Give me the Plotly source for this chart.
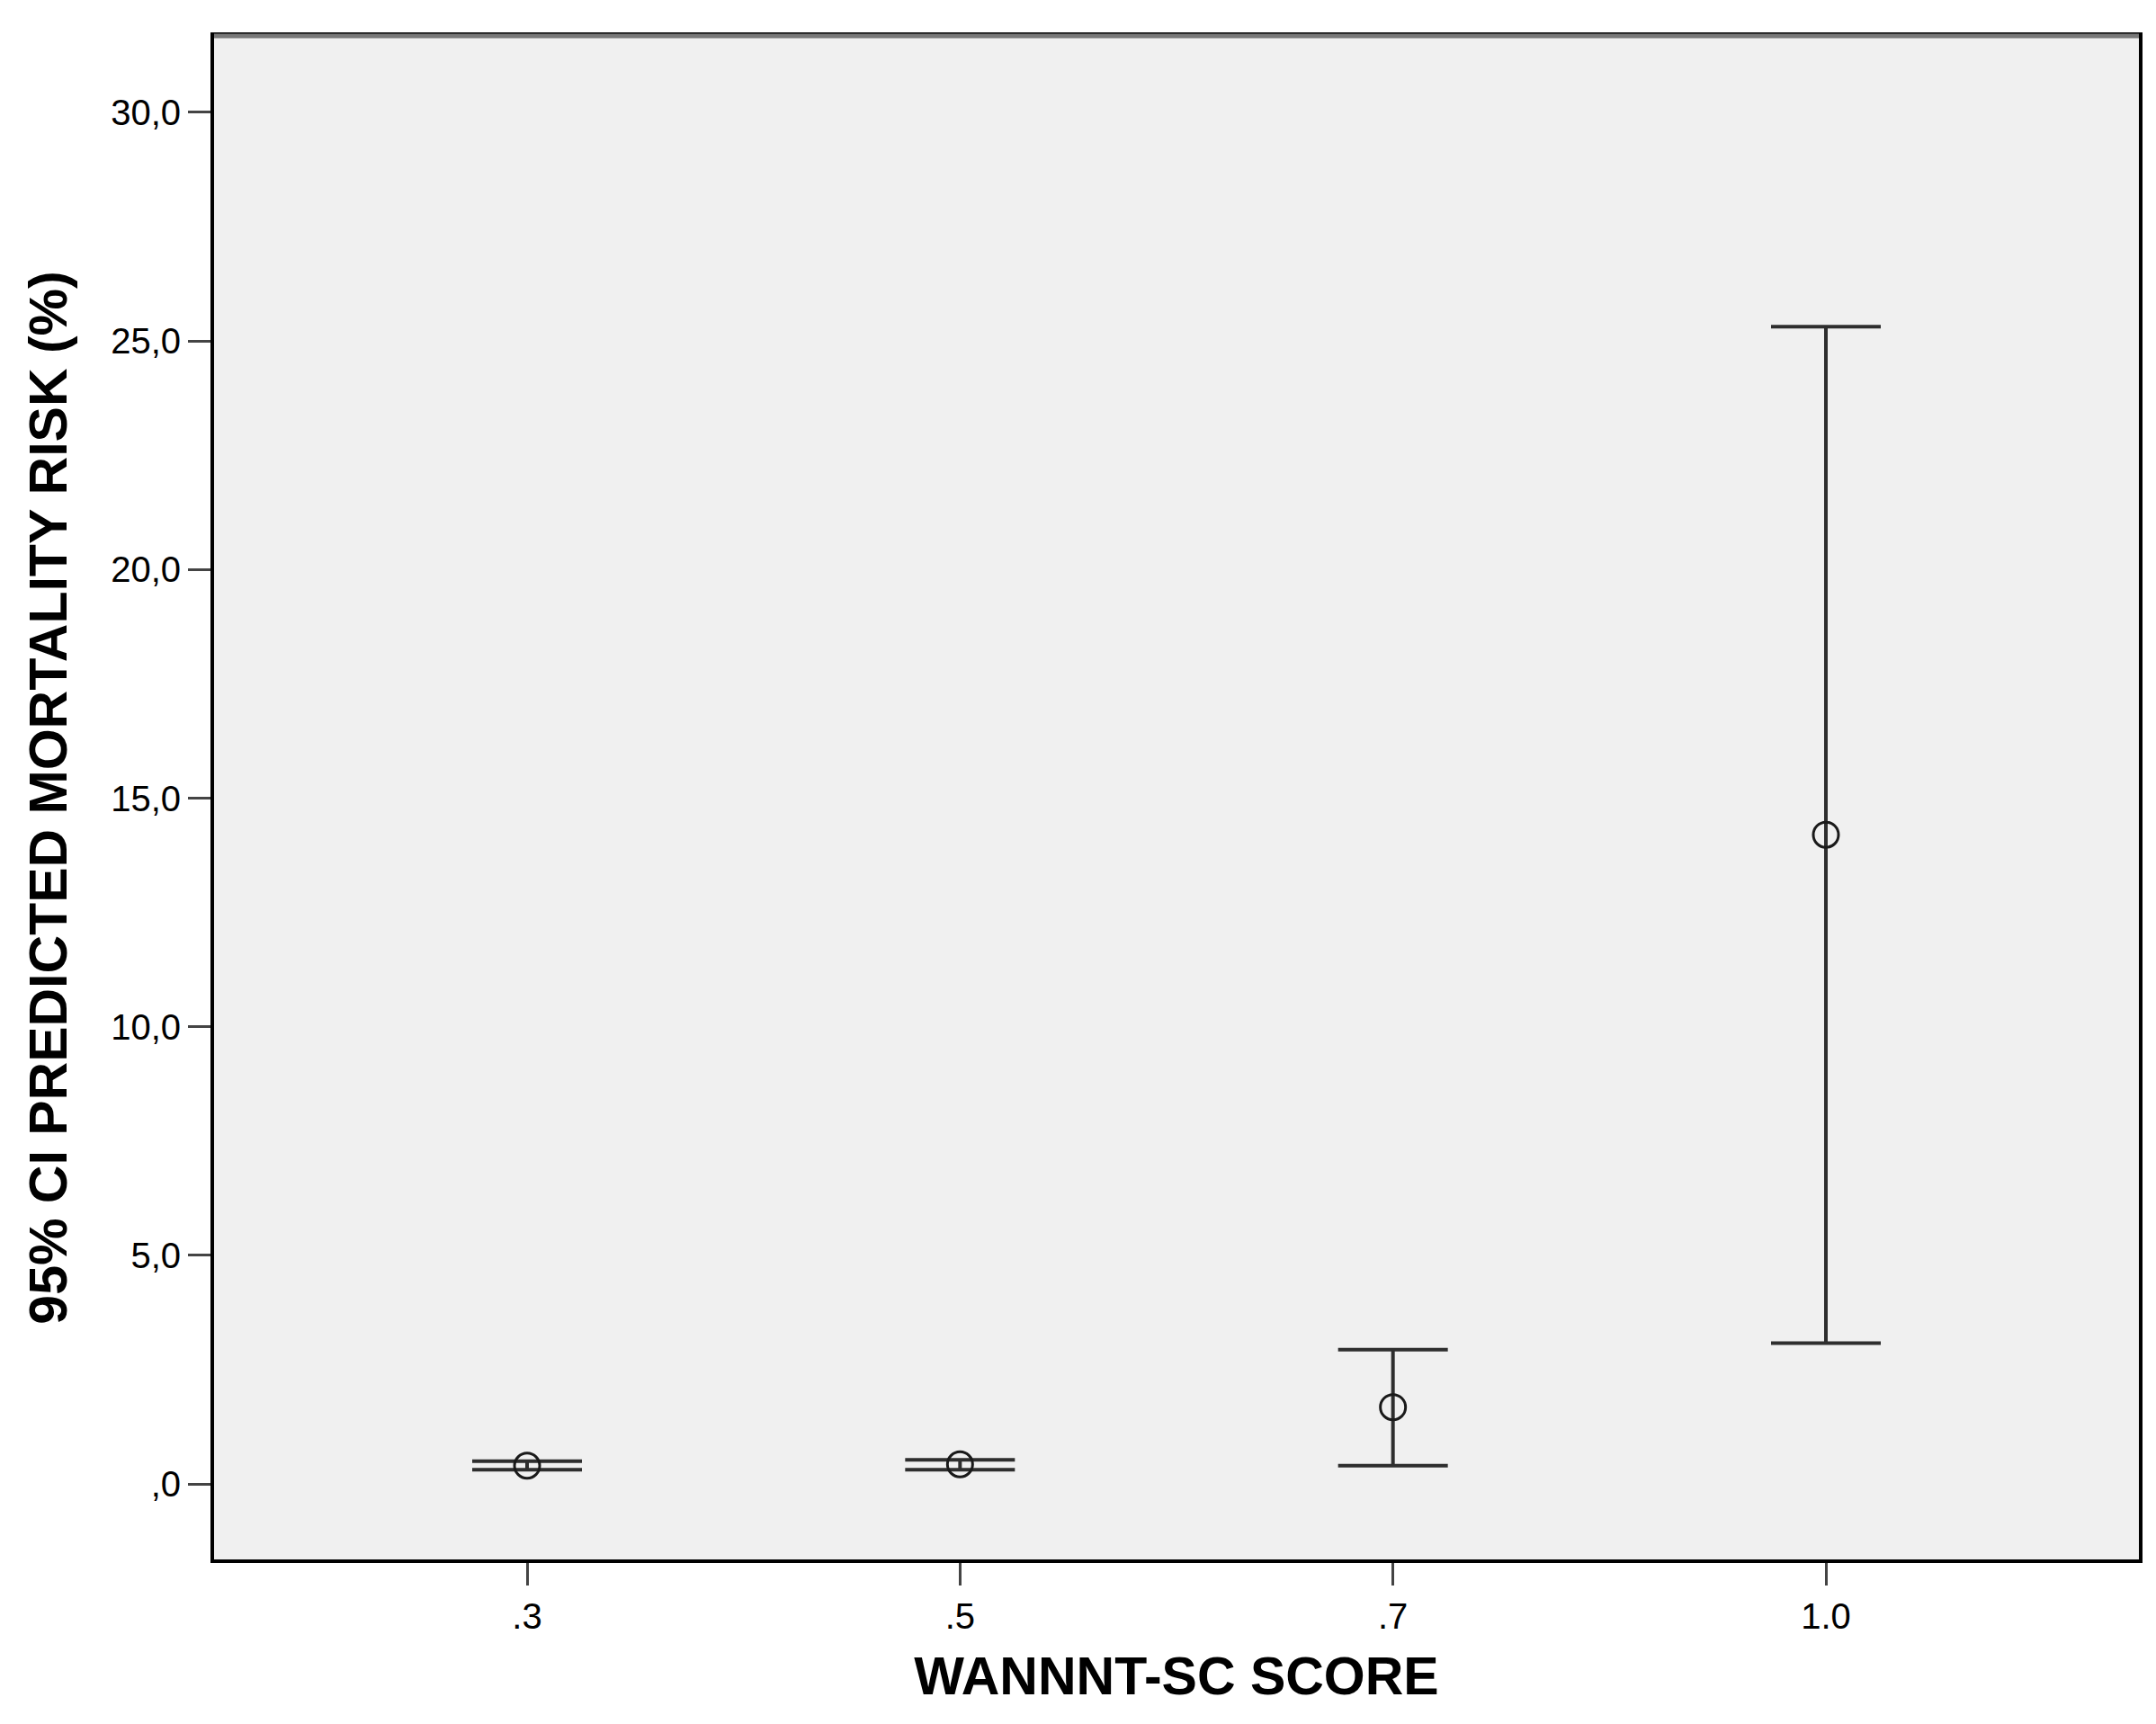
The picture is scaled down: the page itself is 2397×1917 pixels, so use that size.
import plotly.graph_objects as go

categories = [".3", ".5", ".7", "1.0"]
means = [0.40, 0.43, 1.68, 14.20]
upper = [0.50, 0.53, 2.94, 25.31]
lower = [0.31, 0.31, 0.40, 3.08]

y_tickvals = [0, 5, 10, 15, 20, 25, 30]
y_ticktext = [",0", "5,0", "10,0", "15,0", "20,0", "25,0", "30,0"]

err_plus = [u - m for u, m in zip(upper, means)]
err_minus = [m - l for m, l in zip(means, lower)]

FONT = "Liberation Sans, Arial, sans-serif"

fig = go.Figure()
fig.add_trace(go.Scatter(
    x=categories, y=means, mode="markers",
    marker=dict(symbol="circle-open", size=28, color="#1a1a1a", line=dict(width=3, color="#1a1a1a")),
    error_y=dict(type="data", symmetric=False, array=err_plus, arrayminus=err_minus,
                 color="#2e2e2e", thickness=4, width=61),
    showlegend=False, hoverinfo="skip",
))

fig.update_layout(
    width=2397, height=1917,
    paper_bgcolor="white", plot_bgcolor="#f0f0f0",
    margin=dict(l=230, r=27, t=32, b=191),
    font=dict(family=FONT, color="black"),
    xaxis=dict(
        type="category", range=[-0.723, 3.723],
        showgrid=False, zeroline=False,
        showline=True, linecolor="black", linewidth=4, mirror=True,
        ticks="outside", ticklen=25, tickwidth=3, tickcolor="#444",
        tickfont=dict(size=40, family=FONT, color="black"),
        title=dict(text="<b>WANNNT-SC SCORE</b>", font=dict(size=59, family=FONT, color="black"), standoff=26),
    ),
    yaxis=dict(
        range=[-1.65, 31.67],
        tickvals=y_tickvals, ticktext=y_ticktext,
        showgrid=False, zeroline=False,
        showline=True, linecolor="black", linewidth=4, mirror=True,
        ticks="outside", ticklen=25, tickwidth=3, tickcolor="#444",
        tickfont=dict(size=40, family=FONT, color="black"),
        title=dict(text="<b>95% CI PREDICTED MORTALITY RISK (%)</b>", font=dict(size=59, family=FONT, color="black"), standoff=30),
    ),
    shapes=[dict(type="line", xref="paper", yref="paper", x0=0, x1=1, y0=1, y1=1,
                 line=dict(color="#787878", width=5))],
)

fig.write_html("out.html")
